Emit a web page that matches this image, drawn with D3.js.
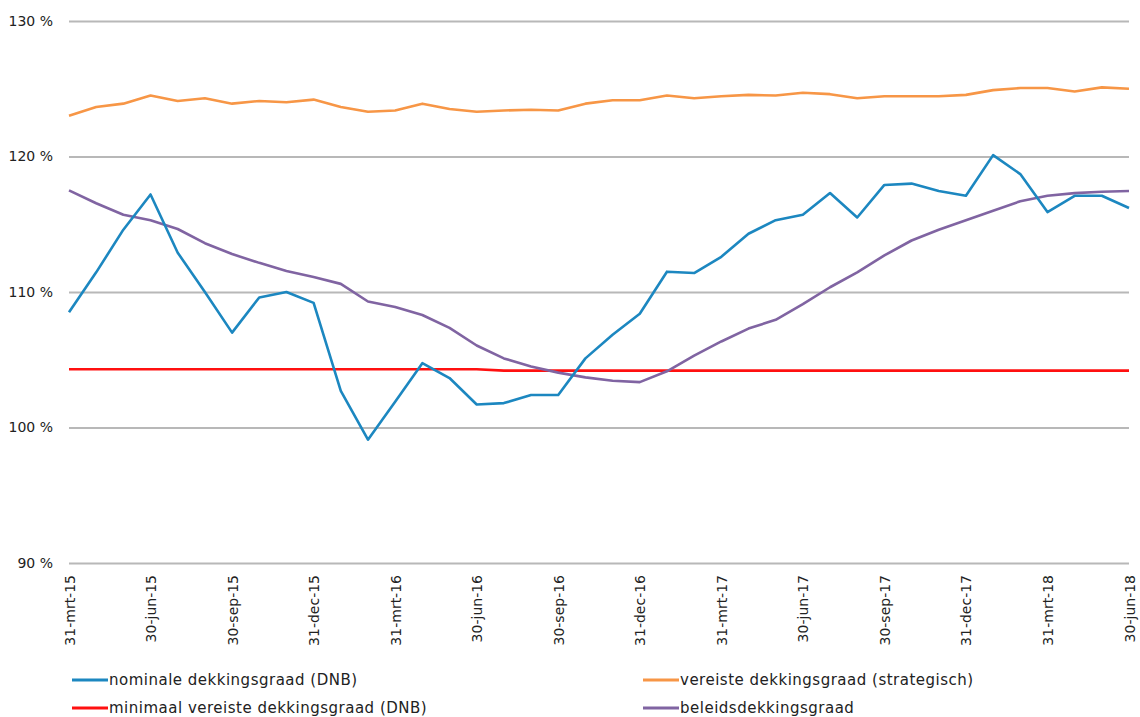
<!DOCTYPE html>
<html>
<head>
<meta charset="utf-8">
<script src="https://cdn.jsdelivr.net/npm/d3@7"></script>
<style>
  body { margin: 0; background: #fff; }
  svg text { font-family: "DejaVu Sans", Verdana, sans-serif; fill: #222; }
  .grid line { stroke: #b8b8b8; stroke-width: 2px; }
  .axis path { display: none; }
  .serie { fill: none; stroke-width: 2.6px; stroke-linejoin: round; }
</style>
</head>
<body>
<div id="chart"></div>
<script>
// maand-einde datums (categorieen)
var dates = [
  "31-mrt-15","30-apr-15","31-mei-15","30-jun-15","31-jul-15","31-aug-15","30-sep-15","31-okt-15","30-nov-15","31-dec-15",
  "31-jan-16","29-feb-16","31-mrt-16","30-apr-16","31-mei-16","30-jun-16","31-jul-16","31-aug-16","30-sep-16","31-okt-16","30-nov-16","31-dec-16",
  "31-jan-17","28-feb-17","31-mrt-17","30-apr-17","31-mei-17","30-jun-17","31-jul-17","31-aug-17","30-sep-17","31-okt-17","30-nov-17","31-dec-17",
  "31-jan-18","28-feb-18","31-mrt-18","30-apr-18","31-mei-18","30-jun-18"
];
var tickDates = ["31-mrt-15","30-jun-15","30-sep-15","31-dec-15","31-mrt-16","30-jun-16","30-sep-16","31-dec-16",
  "31-mrt-17","30-jun-17","30-sep-17","31-dec-17","31-mrt-18","30-jun-18"];
var yTicks = [90, 100, 110, 120, 130];

var nominale = [108.5, 111.45, 114.6, 117.2, 112.9, 110.0, 107.0, 109.6, 110.0, 109.2,
  102.7, 99.1, 101.9, 104.75, 103.65, 101.7, 101.8, 102.4, 102.4, 105.1, 106.85, 108.4,
  111.5, 111.4, 112.6, 114.3, 115.3, 115.7, 117.3, 115.5, 117.9, 118.0, 117.45, 117.1,
  120.1, 118.7, 115.9, 117.1, 117.1, 116.2];
var vereiste = [123.0, 123.65, 123.9, 124.5, 124.1, 124.3, 123.9, 124.1, 124.0, 124.2,
  123.65, 123.3, 123.4, 123.9, 123.5, 123.3, 123.4, 123.45, 123.4, 123.9, 124.15, 124.15,
  124.5, 124.3, 124.45, 124.55, 124.5, 124.7, 124.6, 124.3, 124.45, 124.45, 124.45, 124.55,
  124.9, 125.05, 125.05, 124.8, 125.1, 125.0];
var minimaal = [104.3, 104.3, 104.3, 104.3, 104.3, 104.3, 104.3, 104.3, 104.3, 104.3,
  104.3, 104.3, 104.3, 104.3, 104.3, 104.3, 104.2, 104.2, 104.2, 104.2, 104.2, 104.2,
  104.2, 104.2, 104.2, 104.2, 104.2, 104.2, 104.2, 104.2, 104.2, 104.2, 104.2, 104.2,
  104.2, 104.2, 104.2, 104.2, 104.2, 104.2];
var beleids = [117.5, 116.55, 115.7, 115.3, 114.65, 113.6, 112.8, 112.15, 111.55, 111.1,
  110.6, 109.3, 108.9, 108.3, 107.35, 106.05, 105.1, 104.5, 104.05, 103.7, 103.45, 103.35,
  104.15, 105.3, 106.35, 107.3, 107.95, 109.1, 110.35, 111.45, 112.7, 113.8, 114.6, 115.3,
  116.0, 116.7, 117.1, 117.3, 117.4, 117.45];

var series = [
  {name: "nominale dekkingsgraad (DNB)", values: nominale, color: "#1c87c0"},
  {name: "vereiste dekkingsgraad (strategisch)", values: vereiste, color: "#f79646"},
  {name: "minimaal vereiste dekkingsgraad (DNB)", values: minimaal, color: "#ff1010"},
  {name: "beleidsdekkingsgraad", values: beleids, color: "#8064a2"}
];

var width = 1140, height = 717;
var margin = {top: 21, right: 11, bottom: 154, left: 69};

var svg = d3.select("#chart").append("svg")
    .attr("width", width)
    .attr("height", height);

var x = d3.scalePoint()
    .domain(dates)
    .range([margin.left, width - margin.right]);

var y = d3.scaleLinear()
    .domain([90, 130])
    .range([height - margin.bottom, margin.top]);

// gridlines + y labels
svg.append("g")
    .attr("class", "grid axis")
    .attr("transform", "translate(" + margin.left + ",0)")
    .call(d3.axisLeft(y)
        .tickValues(yTicks)
        .tickSize(-(width - margin.left - margin.right))
        .tickPadding(16)
        .tickFormat(function(d){ return d + " %"; }))
    .selectAll("text")
        .style("font-size", "14px");

// x labels, rotated
svg.append("g")
    .attr("class", "axis")
    .attr("transform", "translate(0," + (height - margin.bottom) + ")")
    .call(d3.axisBottom(x).tickValues(tickDates).tickSize(0))
    .selectAll("text")
        .style("font-size", "14px")
        .attr("transform", "rotate(-90)")
        .attr("text-anchor", "end")
        .attr("x", -12)
        .attr("y", 0)
        .attr("dy", "0.36em");

var line = d3.line()
    .x(function(d, i){ return x(dates[i]); })
    .y(function(d){ return y(d); });

// rode lijn onder de rest tekenen
var drawOrder = [2, 1, 3, 0];
drawOrder.forEach(function(k){
  svg.append("path")
      .attr("class", "serie")
      .attr("stroke", series[k].color)
      .attr("d", line(series[k].values));
});

// legenda
var legendPos = [
  {x: 72, y: 680}, {x: 643, y: 680},
  {x: 72, y: 708}, {x: 643, y: 708}
];
series.forEach(function(s, i){
  var p = legendPos[i];
  var g = svg.append("g").attr("transform", "translate(" + p.x + "," + p.y + ")");
  g.append("line")
      .attr("x1", 0).attr("x2", 36)
      .attr("y1", 0).attr("y2", 0)
      .attr("stroke", s.color)
      .attr("stroke-width", 3);
  g.append("text")
      .attr("x", 37)
      .attr("y", 0)
      .attr("dy", "0.36em")
      .style("font-size", "15px")
      .style("letter-spacing", "0.5px")
      .text(s.name);
});
</script>
</body>
</html>
